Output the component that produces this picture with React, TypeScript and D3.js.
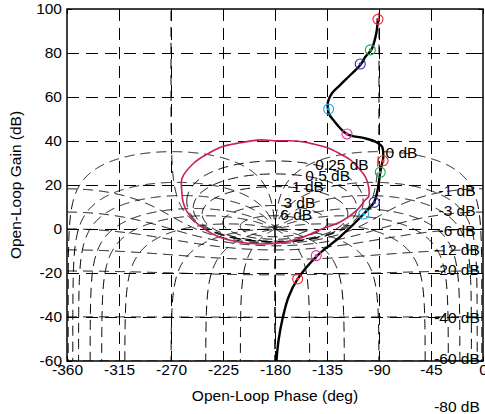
import React, { useEffect, useRef } from "react";
import * as d3 from "d3";

// open-loop response (phase in deg, gain in dB)
const loopPhase = [-91.0, -92.3, -96.7, -101.9, -105.8, -114.8, -123.5, -130.7, -134.1, -134.3, -133.5, -129.5, -117.9, -103.6, -93.2, -87.4, -86.3, -86.7, -88.9, -91.2, -94.1, -103.3, -123.5, -143.8, -160.4, -168.2, -173.1, -176.9, -178.9];
const loopGain = [95.6, 89.1, 81.4, 78.2, 74.8, 70.0, 65.5, 61.7, 57.9, 55.0, 52.5, 49.5, 43.2, 41.4, 39.7, 37.4, 32.7, 31.2, 25.9, 17.7, 12.3, 6.8, -3.5, -12.3, -22.7, -30.8, -39.9, -50.5, -61.0];

// frequency markers along the response
const markerPhase = [-90.9, -97.5, -106.2, -133.6, -117.7, -86.5, -88.9, -94.1, -103.3, -144.3, -160.4];
const markerGain = [95.3, 81.4, 75.0, 54.5, 43.2, 31.0, 25.8, 12.1, 6.8, -12.1, -22.7];
const markerColor = ["#e8262e", "#1fa650", "#2e3192", "#1aa9e5", "#e0359c", "#e8262e", "#1fa650", "#2e3192", "#1aa9e5", "#e0359c", "#e8262e"];

// closed boundary (crimson)
const boundPhase = [-192.7, -210, -225.9, -237.5, -250.4, -260.5, -260.5, -259.6, -256.2, -249, -241.8, -230.2, -212.9, -192.7, -176, -161, -138, -123.5, -109, -101.9, -99, -99, -101.9, -107.6, -114.8, -123.5, -133.6, -146.6, -161, -181.2];
const boundGain = [40.5, 39.2, 37.4, 34.4, 29.9, 23.0, 16.2, 12.4, 7.9, 3.3, 0.3, -3.2, -5.8, -6.8, -6.3, -4.7, 0.3, 3.2, 8.6, 13.2, 14.7, 19.2, 23.8, 27.6, 31.4, 34.1, 36.7, 38.6, 40.0, 40.1];

const phaseTicks = [-360, -315, -270, -225, -180, -135, -90, -45, 0];
const gainTicks = [-60, -40, -20, 0, 20, 40, 60, 80, 100];

// Nichols grid: closed-loop gain (dB) and phase (deg) contours
const gridGains = [6, 3, 1, 0.5, 0.25, 0, -1, -3, -6, -12, -20, -40, -60, -80];
const gridPhases = [-1, -5, -10, -20, -30, -50, -90, -120, -150, -180];

const innerLabels = ["6 dB", "3 dB", "1 dB", "0.5 dB", "0.25 dB", "0 dB"];
const innerLabelPhase = [-175.4, -172.7, -165.3, -153.8, -145.2, -84.4];
const innerLabelGain = [6.4, 12.0, 19.5, 24.5, 29.5, 35.0];

const outerLabels = ["-1 dB", "-3 dB", "-6 dB", "-12 dB", "-20 dB", "-40 dB", "-60 dB", "-80 dB"];
const outerLabelGain = [17.7, 8.2, -0.5, -9.1, -18.6, -40, -59, -80.5];
const outerLabelPhase = -22.5;

const rad = Math.PI / 180;
const db = (g: number) => 20 * Math.log10(g);

function magContour(mdb: number): [number, number][] {
  const m = Math.pow(10, mdb / 20);
  const m2 = m * m;
  const gainAt = (ph: number, sign: number) => {
    const c = Math.cos(ph * rad);
    const r = Math.sqrt(Math.max(0, m2 * c * c + 1 - m2));
    return (m2 * c + sign * m * r) / (1 - m2);
  };
  if (mdb < 0) return d3.range(-360, 0.25, 0.5).map(ph => [ph, db(gainAt(ph, 1))]);
  if (mdb === 0) {
    return d3.range(-89.9, 89.95, 0.2).map(t => {
      const ph = -180 + 90 * Math.sin(t * rad);
      return [ph, db(-1 / (2 * Math.cos(ph * rad)))];
    });
  }
  const alpha = Math.acos(Math.sqrt(1 - 1 / m2)) / rad;
  const ts = d3.range(-90, 90.5, 1);
  const upper = ts.map(t => { const ph = -180 + alpha * Math.sin(t * rad); return [ph, db(gainAt(ph, -1))] as [number, number]; });
  const lower = ts.slice().reverse().map(t => { const ph = -180 + alpha * Math.sin(t * rad); return [ph, db(gainAt(ph, 1))] as [number, number]; });
  return [...upper, ...lower];
}

function phaseContour(psi: number): [number, number][] {
  if (psi <= -180) return [[-180, -200], [-180, 0]];
  const span = 180 + psi;
  const deltas = [...d3.range(-5, 0, 0.05).map(e => Math.pow(10, e)), ...d3.range(1, span, 0.25), span];
  return deltas.map(dl => [psi - dl, db(Math.sin(-dl * rad) / Math.sin(psi * rad))]);
}

export default function App() {
  const svgRef = useRef<SVGSVGElement>(null);

  useEffect(() => {
    const svg = d3.select(svgRef.current);
    svg.selectAll("*").remove();

    const left = 67, right = 483, top = 9, bottom = 361;
    const font = "'Liberation Sans', Arial, sans-serif";
    const fs = 15.5;

    const x = d3.scaleLinear().domain([-360, 0]).range([left, right]);
    const y = d3.scaleLinear().domain([-60, 100]).range([bottom, top]);
    const line = d3.line<[number, number]>()
      .defined(d => isFinite(d[1]))
      .x(d => x(d[0]))
      .y(d => y(Math.max(-300, d[1])));

    svg.append("rect").attr("width", 485).attr("height", 414).attr("fill", "#fff");

    svg.append("defs").append("clipPath").attr("id", "plotArea")
      .append("rect").attr("x", left).attr("y", top).attr("width", right - left).attr("height", bottom - top);

    const plot = svg.append("g").attr("clip-path", "url(#plotArea)");

    // rectangular grid
    plot.selectAll(".vgrid").data(phaseTicks.slice(1, -1)).join("line")
      .attr("x1", d => Math.round(x(d)) + 0.5).attr("x2", d => Math.round(x(d)) + 0.5).attr("y1", top).attr("y2", bottom)
      .attr("stroke", "#000").attr("stroke-width", 1).attr("stroke-dasharray", "12,7");
    plot.selectAll(".hgrid").data(gainTicks.slice(1, -1)).join("line")
      .attr("x1", left).attr("x2", right).attr("y1", d => Math.round(y(d)) + 0.5).attr("y2", d => Math.round(y(d)) + 0.5)
      .attr("stroke", "#000").attr("stroke-width", 1).attr("stroke-dasharray", "12,7");

    // Nichols contours
    const contours: [number, number][][] = [];
    gridGains.forEach(g => contours.push(magContour(g)));
    gridPhases.forEach(p => {
      const c = phaseContour(p);
      contours.push(c);
      contours.push(c.map(d => [-360 - d[0], d[1]] as [number, number]));
    });
    plot.selectAll(".contour").data(contours).join("path")
      .attr("d", d => line(d))
      .attr("fill", "none").attr("stroke", "#000").attr("stroke-width", 1)
      .attr("stroke-dasharray", "10,6");

    // boundary
    plot.append("path")
      .datum(boundPhase.map((p, i) => [p, boundGain[i]] as [number, number]))
      .attr("d", d3.line<[number, number]>().x(d => x(d[0])).y(d => y(d[1])).curve(d3.curveCatmullRomClosed.alpha(0.5)))
      .attr("fill", "none").attr("stroke", "#cc1f4f").attr("stroke-width", 1.6);

    // response
    plot.append("path")
      .datum(loopPhase.map((p, i) => [p, loopGain[i]] as [number, number]))
      .attr("d", d3.line<[number, number]>().x(d => x(d[0])).y(d => y(d[1])).curve(d3.curveCatmullRom.alpha(0.5)))
      .attr("fill", "none").attr("stroke", "#000").attr("stroke-width", 2.4);

    const mk = svg.append("g");
    mk.selectAll("circle.ring").data(markerPhase).join("circle")
      .attr("cx", d => x(d)).attr("cy", (d, i) => y(markerGain[i])).attr("r", 5)
      .attr("fill", "none").attr("stroke", (d, i) => markerColor[i]).attr("stroke-width", 1.1);
    mk.selectAll("circle.dot").data(markerPhase).join("circle")
      .attr("cx", d => x(d)).attr("cy", (d, i) => y(markerGain[i])).attr("r", 1.6)
      .attr("fill", (d, i) => markerColor[i]);

    // contour labels
    const lab = svg.append("g").attr("font-family", font).attr("font-size", fs).attr("fill", "#000");
    lab.selectAll("text.inner").data(innerLabels).join("text")
      .attr("x", (d, i) => x(innerLabelPhase[i])).attr("y", (d, i) => y(innerLabelGain[i]))
      .attr("dominant-baseline", "central").text(d => d);
    lab.selectAll("text.outer").data(outerLabels).join("text")
      .attr("x", x(outerLabelPhase)).attr("y", (d, i) => y(outerLabelGain[i]))
      .attr("text-anchor", "middle").attr("dominant-baseline", "central").text(d => d);

    // axes
    const styleAxis = (g: d3.Selection<SVGGElement, unknown, null, undefined>) => {
      g.select(".domain").remove();
      g.selectAll("line").attr("stroke", "#000");
      g.selectAll("text").attr("font-family", font).attr("font-size", fs).attr("fill", "#000");
      g.attr("font-family", font);
    };
    const fmt = (d: d3.NumberValue) => String(d);
    svg.append("g").attr("transform", `translate(0,${bottom})`)
      .call(d3.axisBottom(x).tickValues(phaseTicks).tickSize(-5).tickPadding(3).tickFormat(fmt)).call(styleAxis);
    svg.append("g").attr("transform", `translate(${left},0)`)
      .call(d3.axisLeft(y).tickValues(gainTicks).tickSize(-5).tickPadding(5).tickFormat(fmt)).call(styleAxis);
    svg.append("g").attr("transform", `translate(0,${top})`)
      .call(d3.axisTop(x).tickValues(phaseTicks).tickSize(-5).tickFormat(() => "")).call(styleAxis);
    svg.append("g").attr("transform", `translate(${right},0)`)
      .call(d3.axisRight(y).tickValues(gainTicks).tickSize(-5).tickFormat(() => "")).call(styleAxis);

    svg.append("rect").attr("x", left).attr("y", top).attr("width", right - left).attr("height", bottom - top)
      .attr("fill", "none").attr("stroke", "#000").attr("stroke-width", 1.5);

    svg.append("text").attr("x", (left + right) / 2).attr("y", 401)
      .attr("text-anchor", "middle").attr("font-family", font).attr("font-size", fs)
      .text("Open-Loop Phase (deg)");
    svg.append("text").attr("transform", `translate(15,${(top + bottom) / 2}) rotate(-90)`)
      .attr("text-anchor", "middle").attr("dominant-baseline", "central")
      .attr("font-family", font).attr("font-size", fs)
      .text("Open-Loop Gain (dB)");
  }, []);

  return (
    <svg ref={svgRef} width={485} height={414} style={{ position: "absolute", left: 0, top: 0, display: "block" }} />
  );
}
